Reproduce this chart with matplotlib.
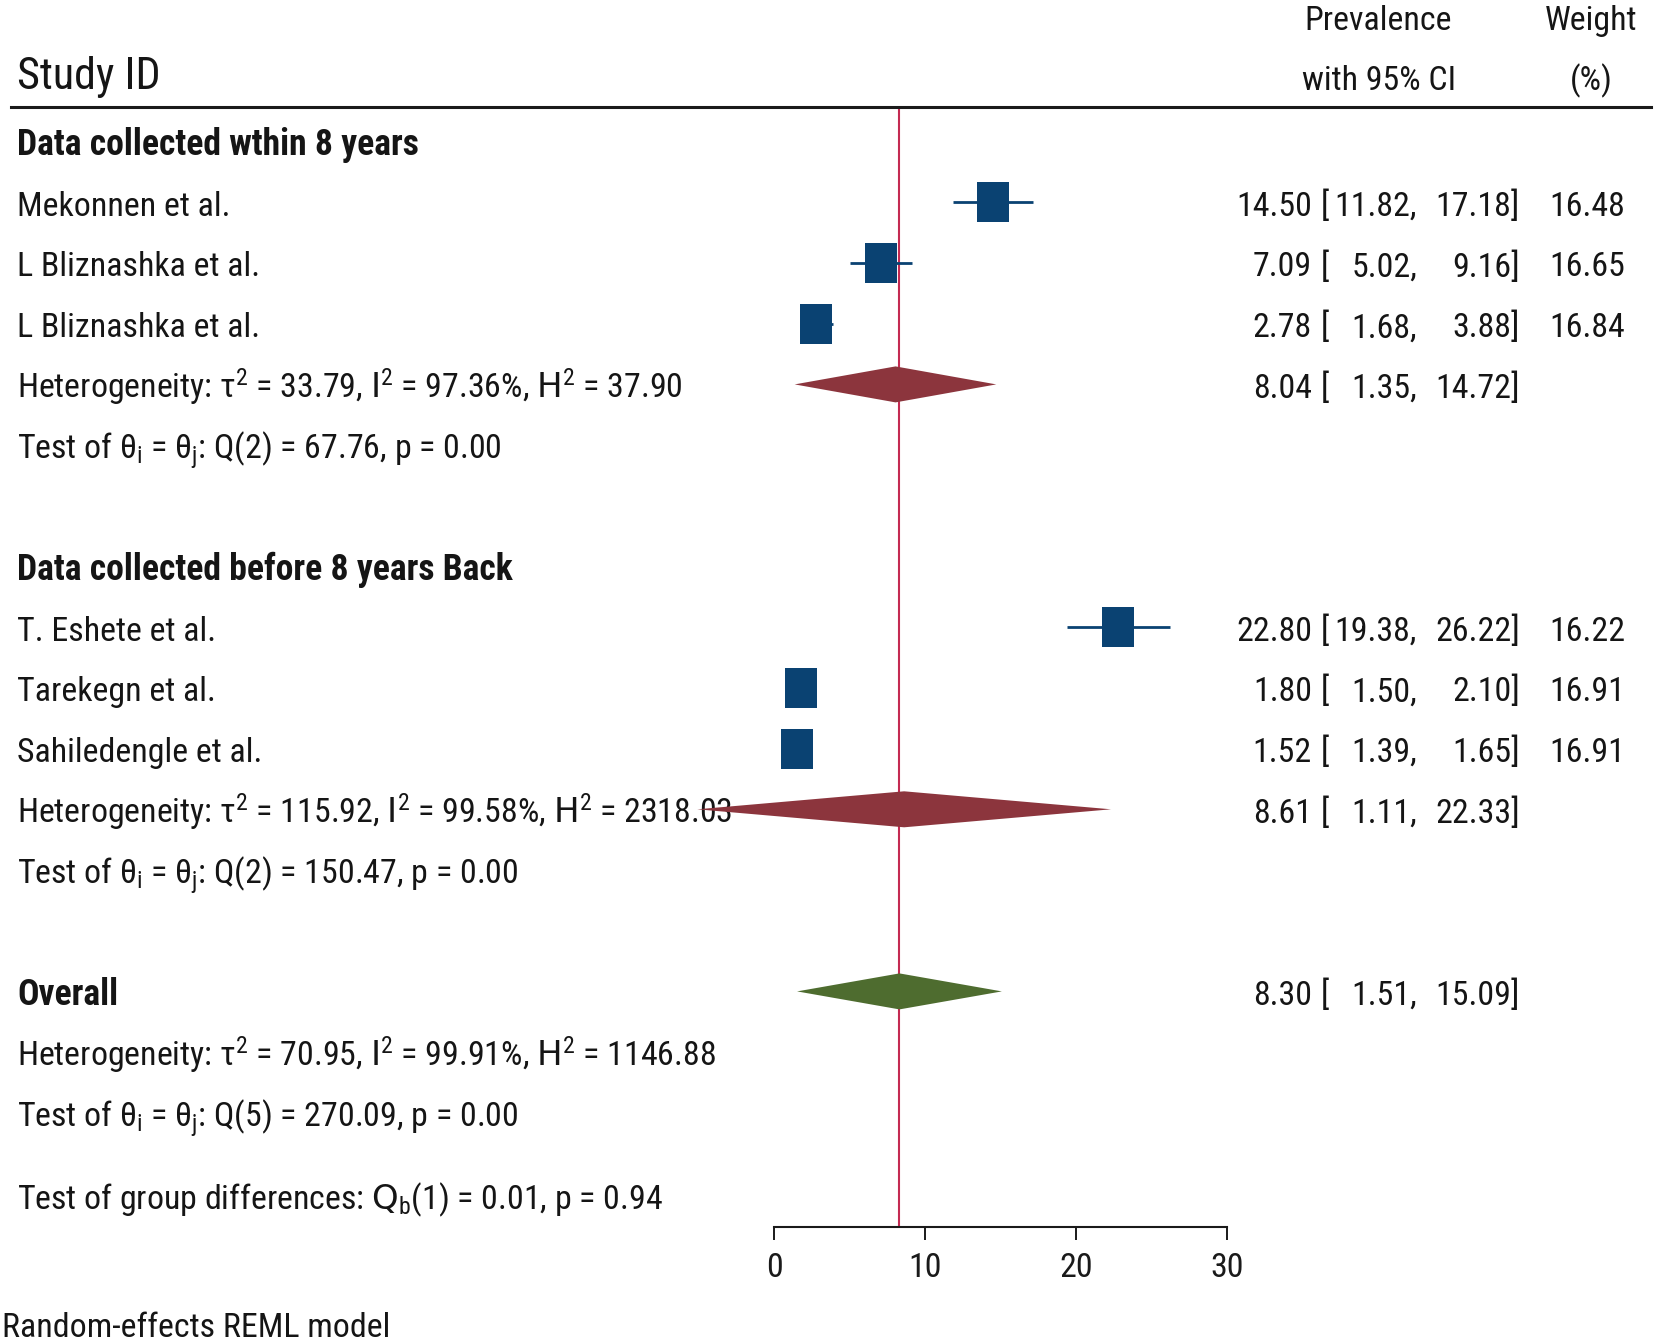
import matplotlib
matplotlib.use('Agg')
import matplotlib.pyplot as plt
import matplotlib.transforms as mtransforms
from matplotlib import font_manager
from matplotlib.lines import Line2D
from matplotlib.patches import Polygon

# ---- data ----
group_titles = ['Data collected wthin 8 years', 'Data collected before 8 years Back']
study_names = ['Mekonnen et al.', 'L Bliznashka et al.', 'L Bliznashka et al.',
               'T. Eshete et al.', 'Tarekegn et al.', 'Sahiledengle et al.']
study_group = [0, 0, 0, 1, 1, 1]
prev = [14.50, 7.09, 2.78, 22.80, 1.80, 1.52]
ci_lo = [11.82, 5.02, 1.68, 19.38, 1.50, 1.39]
ci_hi = [17.18, 9.16, 3.88, 26.22, 2.10, 1.65]
weights = [16.48, 16.65, 16.84, 16.22, 16.91, 16.91]

# pooled estimates: group 1, group 2, overall
pooled_es = [8.04, 8.61, 8.30]
pooled_lo = [1.35, 1.11, 1.51]
pooled_hi = [14.72, 22.33, 15.09]
# diamond ends as drawn on the plot (group 2 is drawn symmetric)
diamond_lo = [1.35, -5.11, 1.51]
diamond_hi = [14.72, 22.33, 15.09]

het_text = [r'Heterogeneity: $\tau^{2}$ = 33.79, $\mathrm{I}^{2}$ = 97.36%, $\mathrm{H}^{2}$ = 37.90',
            r'Heterogeneity: $\tau^{2}$ = 115.92, $\mathrm{I}^{2}$ = 99.58%, $\mathrm{H}^{2}$ = 2318.03',
            r'Heterogeneity: $\tau^{2}$ = 70.95, $\mathrm{I}^{2}$ = 99.91%, $\mathrm{H}^{2}$ = 1146.88']
test_text = [r'Test of $\theta_{i}$ = $\theta_{j}$: Q(2) = 67.76, p = 0.00',
             r'Test of $\theta_{i}$ = $\theta_{j}$: Q(2) = 150.47, p = 0.00',
             r'Test of $\theta_{i}$ = $\theta_{j}$: Q(5) = 270.09, p = 0.00']
group_diff_text = r'Test of group differences: $\mathrm{Q}_{b}$(1) = 0.01, p = 0.94'
x_ticks = [0, 10, 20, 30]

# ---- style: the reference uses a squeezed Helvetica, so look for a narrow sans ----
names = {f.name for f in font_manager.fontManager.ttflist}
candidates = ['Nimbus Sans Narrow', 'Liberation Sans Narrow', 'Arial Narrow', 'Roboto Condensed',
              'Archivo Narrow', 'PT Sans Narrow', 'IBM Plex Sans Condensed', 'Open Sans Condensed',
              'Liberation Sans']
main_font = next(c for c in candidates if c in names or c == 'Liberation Sans')
plt.rcParams['font.family'] = [main_font, 'DejaVu Sans']
plt.rcParams['mathtext.default'] = 'regular'

W, H, DPI = 1654, 1342, 100
TXT = '#151515'
NAVY = '#0a4272'
MAROON = '#8c353d'
GREEN = '#4e6c2f'
REFRED = '#c42a52'

fig = plt.figure(figsize=(W / DPI, H / DPI), dpi=DPI)
renderer = fig.canvas.get_renderer()


def width_px(s, size, **kw):
    t = fig.text(0, 0, s, fontsize=size, **kw)
    w = t.get_window_extent(renderer=renderer).width
    t.remove()
    return w


# size the fonts so that text widths match the reference
FS = 26 * 213 / width_px('Mekonnen et al.', 26)
FS_BOLD = 26 * 402 / width_px(group_titles[0], 26, fontweight='bold')
FS_BIG = 33 * 144 / width_px('Study ID', 33)

# forest panel: x 0..30 spans pixels 774..1227, rows are 60.7 px apart
row0_px, row_px = 141.6, 60.7
top_px, axis_px = 106.5, 1226.7
ax = fig.add_axes([774.3 / W, 1 - axis_px / H, (1226.7 - 774.3) / W, (axis_px - top_px) / H])
ax.set_xlim(0, 30)
ax.set_ylim((axis_px - row0_px) / row_px, (top_px - row0_px) / row_px)
ax.patch.set_alpha(0)
for s in ['left', 'right', 'top']:
    ax.spines[s].set_visible(False)
ax.spines['bottom'].set_linewidth(1.5)
ax.spines['bottom'].set_color('#1a1a1a')
ax.set_yticks([])
ax.set_xticks(x_ticks)
ax.tick_params(axis='x', length=9.5, width=1.4, pad=9, labelsize=FS, colors='#1a1a1a')

blend = mtransforms.blended_transform_factory(fig.transFigure, ax.transData)
base = blend + mtransforms.ScaledTranslation(0, -13.5 / DPI, fig.dpi_scale_trans)


def put(xpx, row, s, ha='left', size=None, **kw):
    ax.text(xpx / W, row, s, transform=base, ha=ha, va='baseline',
            fontsize=size or FS, color=TXT, clip_on=False, **kw)


def put_ci(row, es, lo, hi, w=None):
    put(1312, row, f'{es:.2f}', ha='right')
    put(1321, row, '[')
    put(1417, row, f'{lo:.2f},', ha='right')
    put(1520, row, f'{hi:.2f}]', ha='right')
    if w is not None:
        put(1625, row, f'{w:.2f}', ha='right')


def diamond(row, k, color):
    half = 18 / row_px
    poly = Polygon([(diamond_lo[k], row), (pooled_es[k], row - half),
                    (diamond_hi[k], row), (pooled_es[k], row + half)],
                   closed=True, facecolor=color, edgecolor='none', zorder=5, clip_on=False)
    ax.add_patch(poly)


rect_marker = [(-0.41, -0.5), (0.41, -0.5), (0.41, 0.5), (-0.41, 0.5), (-0.41, -0.5)]

row = 0
for g, title in enumerate(group_titles):
    put(17, row, title, size=FS_BOLD, fontweight='bold')
    row += 1
    for i in range(len(study_names)):
        if study_group[i] != g:
            continue
        put(17, row, study_names[i])
        ax.hlines(row, ci_lo[i], ci_hi[i], color=NAVY, lw=2.0, zorder=2)
        ax.plot(prev[i], row, marker=rect_marker, markersize=28.8, color=NAVY,
                markeredgewidth=0, linestyle='none', zorder=3)
        put_ci(row, prev[i], ci_lo[i], ci_hi[i], weights[i])
        row += 1
    put(17, row, het_text[g])
    diamond(row, g, MAROON)
    put_ci(row, pooled_es[g], pooled_lo[g], pooled_hi[g])
    row += 1
    put(17, row, test_text[g])
    row += 2

put(17, row, 'Overall', size=FS_BOLD, fontweight='bold')
diamond(row, 2, GREEN)
put_ci(row, pooled_es[2], pooled_lo[2], pooled_hi[2])
put(17, row + 1, het_text[2])
put(17, row + 2, test_text[2])
put(17, row + 3.37, group_diff_text)

# reference line at the overall estimate
ax.axvline(pooled_es[2], color=REFRED, lw=1.5, zorder=1)

# header
fig.add_artist(Line2D([10.5 / W, 1651 / W], [1 - top_px / H] * 2, transform=fig.transFigure,
                      color='#1a1a1a', lw=2.2))
fig.text(17 / W, 1 - 89 / H, 'Study ID', fontsize=FS_BIG, color=TXT, va='baseline')
fig.text(1378.6 / W, 1 - 30 / H, 'Prevalence', fontsize=FS, color=TXT, ha='center', va='baseline')
fig.text(1378.6 / W, 1 - 90 / H, 'with 95% CI', fontsize=FS, color=TXT, ha='center', va='baseline')
fig.text(1591 / W, 1 - 30 / H, 'Weight', fontsize=FS, color=TXT, ha='center', va='baseline')
fig.text(1591 / W, 1 - 90 / H, '(%)', fontsize=FS, color=TXT, ha='center', va='baseline')
fig.text(2 / W, 1 - 1337 / H, 'Random-effects REML model', fontsize=FS, color=TXT, va='baseline')

fig.savefig('out.png', dpi=DPI)
